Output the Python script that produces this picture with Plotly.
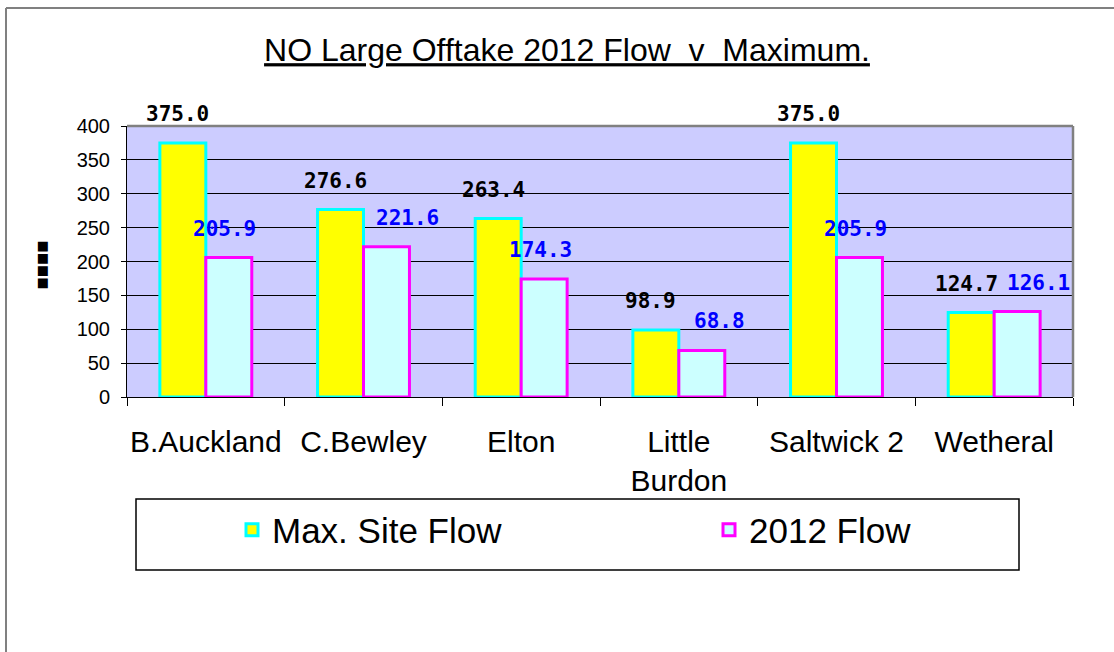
import plotly.graph_objects as go

# data
sites = ["B.Auckland", "C.Bewley", "Elton", "Little<br>Burdon", "Saltwick 2", "Wetheral"]
max_site_flow = [375.0, 276.6, 263.4, 98.9, 375.0, 124.7]
flow_2012 = [205.9, 221.6, 174.3, 68.8, 205.9, 126.1]

# small horizontal nudges of the 2012 labels (as placed in the original)
nudge_2012 = [0, 25, 0, 22, 0, 25]

W, H = 1114, 652
L, R, T, B = 127, 1073, 126, 397   # plot area in pixels


def px_x(x):
    return (x - L) / (R - L)


def px_y(y):
    return (B - y) / (B - T)


fig = go.Figure()
fig.add_trace(go.Bar(
    x=sites, y=max_site_flow, name="Max. Site Flow", legend="legend",
    marker=dict(color="#FFFF00", line=dict(color="#00FFFF", width=3)),
))
fig.add_trace(go.Bar(
    x=sites, y=flow_2012, name="2012 Flow", legend="legend2",
    marker=dict(color="#CCFFFF", line=dict(color="#FF00FF", width=3)),
))

lab_font = "DejaVu Sans Mono, monospace"
annotations = []
for i, s in enumerate(sites):
    annotations.append(dict(
        x=s, y=max_site_flow[i], xref="x", yref="y", text=f"<b>{max_site_flow[i]:.1f}</b>",
        showarrow=False, xshift=-28, yshift=29, yanchor="middle",
        font=dict(family=lab_font, size=21, color="#000000"),
    ))
    annotations.append(dict(
        x=s, y=flow_2012[i], xref="x", yref="y", text=f"<b>{flow_2012[i]:.1f}</b>",
        showarrow=False, xshift=19 + nudge_2012[i], yshift=29, yanchor="middle",
        font=dict(family=lab_font, size=21, color="#0000FF"),
    ))

# odd rotated axis title glyphs
annotations.append(dict(
    x=px_x(31), y=px_y(265), xref="paper", yref="paper", text="<b>■■■■</b>",
    textangle=-90, showarrow=False, font=dict(family="DejaVu Sans", size=13, color="#000000"),
))

shapes = [
    # plot area top/right border (grey)
    dict(type="line", xref="paper", yref="paper", x0=0, x1=1, y0=1, y1=1,
         line=dict(color="#808080", width=2.5)),
    dict(type="line", xref="paper", yref="paper", x0=1, x1=1, y0=0, y1=1,
         line=dict(color="#808080", width=2.5)),
    # outer chart border (left and top visible)
    dict(type="line", xref="paper", yref="paper", x0=px_x(6), x1=px_x(1200), y0=px_y(8), y1=px_y(8),
         line=dict(color="#808080", width=2)),
    dict(type="line", xref="paper", yref="paper", x0=px_x(6), x1=px_x(6), y0=px_y(8), y1=px_y(700),
         line=dict(color="#808080", width=2)),
    # legend box
    dict(type="rect", xref="paper", yref="paper", x0=px_x(136), x1=px_x(1019), y0=px_y(499), y1=px_y(570),
         line=dict(color="#000000", width=1.5), fillcolor="rgba(0,0,0,0)"),
]

legend_style = dict(
    orientation="h", xanchor="left", yanchor="middle", y=px_y(530),
    font=dict(size=35), bgcolor="rgba(0,0,0,0)", borderwidth=0, itemwidth=30,
)

fig.update_layout(
    width=W, height=H,
    margin=dict(l=L, r=W - R, t=T, b=H - B, pad=0),
    paper_bgcolor="#FFFFFF",
    plot_bgcolor="#CCCCFF",
    showlegend=True,
    barmode="group", bargap=0.417, bargroupgap=0,
    font=dict(family="Liberation Sans, Arial, sans-serif", color="#000000"),
    title=dict(
        text="<u>NO Large Offtake 2012 Flow  v  Maximum.</u>",
        x=px_x(567), xanchor="center", xref="paper",
        y=1 - 50 / H, yanchor="middle",
        font=dict(size=32, color="#000000"),
    ),
    xaxis=dict(
        showline=True, linecolor="#000000", linewidth=1,
        ticks="outside", ticklen=8, tickcolor="#000000", tickson="boundaries",
        tickfont=dict(size=30), tickangle=0, ticklabelstandoff=18,
        showgrid=False,
    ),
    yaxis=dict(
        range=[0, 400], dtick=50, tickformat="d",
        showline=True, linecolor="#000000", linewidth=1,
        ticks="outside", ticklen=5, tickcolor="#000000",
        tickfont=dict(size=20), ticklabelstandoff=7,
        showgrid=True, gridcolor="#000000", gridwidth=1, zeroline=False,
    ),
    legend=dict(legend_style, x=px_x(232)),
    legend2=dict(legend_style, x=px_x(709)),
    annotations=annotations,
    shapes=shapes,
)

fig.write_html("out.html", config={"displayModeBar": False},
               post_script="document.body.style.margin='0';")
